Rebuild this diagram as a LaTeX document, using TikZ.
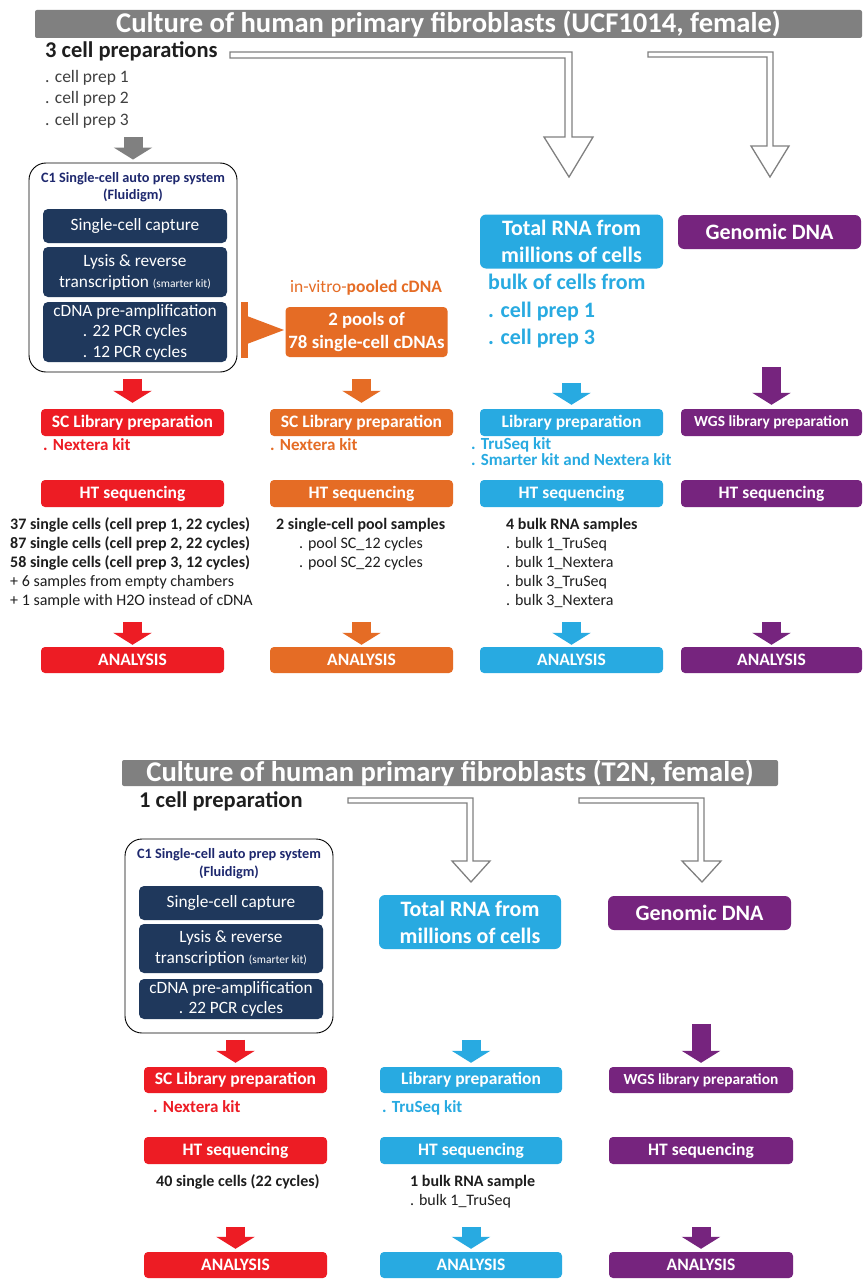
\documentclass[tikz,border=0pt]{standalone}
\usepackage{fontspec}
\setmainfont{Carlito}
\usetikzlibrary{arrows.meta}
\definecolor{redc}{RGB}{237,28,36}
\definecolor{orangec}{RGB}{229,108,37}
\definecolor{bluec}{RGB}{40,170,225}
\definecolor{purplec}{RGB}{118,36,126}
\definecolor{navyc}{RGB}{31,56,92}
\definecolor{titlenavy}{RGB}{30,40,110}
\definecolor{hdrgray}{RGB}{128,128,128}
\definecolor{darktext}{RGB}{30,30,30}
\definecolor{preptext}{RGB}{64,64,64}
\newcommand{\fs}[2]{\fontsize{#1}{#2}\selectfont}
\tikzset{
  hdr/.style={fill=hdrgray, text=white, inner sep=0pt, rounded corners=2pt, font=\bfseries\fs{28.6}{30}},
  cbox/.style={rounded corners=4pt, inner sep=0pt, text=white, align=center, font=\bfseries\fs{17.5}{20}},
  wgsfont/.style={font=\bfseries\fs{15.4}{18}},
  bigbox/.style={rounded corners=6pt, inner sep=0pt, text=white, align=center, font=\bfseries\fs{22}{27}},
  navybox/.style={fill=navyc, rounded corners=5pt, inner sep=0pt, text=white, align=center, minimum width=184},
  c1frame/.style={draw=black, line width=0.9pt, rounded corners=17pt, minimum width=208},
  c1title/.style={inner sep=0pt, font=\bfseries\fs{14.3}{16}, text=titlenavy},
  txt/.style={anchor=west, inner sep=0pt, text height=.68em, text depth=.18em},
  listb/.style={txt, font=\bfseries\fs{16}{19}, text=darktext},
  listr/.style={txt, font=\fs{16}{19}, text=darktext},
  barrow/.style={line width=19pt, -{Triangle[width=38pt,length=12pt]}},
  hollow/.style={draw=hdrgray, line width=1.3pt, fill=white, line join=miter},
}
\begin{document}
\begin{tikzpicture}[x=1pt,y=-1pt]
\useasboundingbox[fill=white] (0,0) rectangle (862,1279);

% ================= TOP PART =================
\node[hdr, minimum width=827, minimum height=28] (h1) at (448.5,24) {Culture of human primary fibroblasts (UCF1014, female)};

\node[txt, font=\bfseries\fs{22.5}{26}, text=darktext] (prep) at (45,55) {3 cell preparations};
\node[txt, font=\fs{17.5}{20}, text=preptext] (p1) at (45,80) {. cell prep 1};
\node[txt, font=\fs{17.5}{20}, text=preptext] (p2) at (45,101) {. cell prep 2};
\node[txt, font=\fs{17.5}{20}, text=preptext] (p3) at (45,123) {. cell prep 3};

% hollow bent arrows
\draw[hollow] (230,52) -- (572,52) -- (572,137) -- (593,137) -- (569,177) -- (544,137) -- (565,137) -- (565,58) -- (230,58) -- cycle;
\draw[hollow] (648,52) -- (773,52) -- (773,146) -- (789,146) -- (770,177) -- (751,146) -- (767,146) -- (767,57) -- (648,57) -- cycle;

% C1 system
\node[c1frame, minimum height=209] (c1) at (133,267.5) {};
\draw[barrow, draw=hdrgray] ([yshift=26pt]c1.north) -- ([yshift=3pt]c1.north);
\node[c1title] (c1t) at (133,179) {C1 Single-cell auto prep system};
\node[c1title] (c1f) at (133,195) {(Fluidigm)};
\node[navybox, minimum height=34, font=\fs{17.3}{20}] (n1) at (135,226) {Single-cell capture};
\node[navybox, minimum height=50, font=\fs{17.3}{21}] (n2) at (135,272) {Lysis \& reverse\\transcription {\fs{11.5}{13}(smarter kit)}};
\node[navybox, minimum height=60, font=\fs{17.3}{20.5}] (n3) at (135,332) {cDNA pre-amplification\\. 22 PCR cycles\\. 12 PCR cycles};

% pooling
\fill[orangec] (241,302) rectangle (248,358);
\fill[orangec] (247,316) -- (284,330) -- (247,344) -- cycle;
\node[inner sep=0pt, font=\fs{17.5}{20}, text=orangec] (ivp) at (366,288) {in-vitro-\textbf{pooled cDNA}};
\node[cbox, fill=orangec, minimum width=162, minimum height=50, font=\bfseries\fs{18.8}{23}] (pool) at (366.5,332) {2 pools of\\78 single-cell cDNAs};

% bulk RNA / DNA
\node[bigbox, fill=bluec, minimum width=183, minimum height=54] (rna) at (571.5,241.5) {Total RNA from\\millions of cells};
\node[bigbox, fill=purplec, minimum width=183, minimum height=34] (dna) at (769.5,232) {Genomic DNA};
\node[txt, font=\bfseries\fs{22}{26}, text=bluec] (bk) at (488,287) {bulk of cells from};
\node[txt, font=\bfseries\fs{22}{26}, text=bluec] (bk1) at (488,315) {. cell prep 1};
\node[txt, font=\bfseries\fs{22}{26}, text=bluec] (bk3) at (488,342) {. cell prep 3};

% library preparation row
\node[cbox, fill=redc, minimum width=183, minimum height=27] (lib1) at (132.5,422.5) {SC Library preparation};
\node[cbox, fill=orangec, minimum width=183, minimum height=27] (lib2) at (361.5,422.5) {SC Library preparation};
\node[cbox, fill=bluec, minimum width=183, minimum height=27] (lib3) at (571.5,422.5) {Library preparation};
\node[cbox, wgsfont, fill=purplec, minimum width=181, minimum height=27] (lib4) at (771.5,422.5) {WGS library preparation};

\draw[barrow, draw=redc] ([yshift=30pt]lib1.north) -- ([yshift=6pt]lib1.north);
\draw[barrow, draw=orangec] ([yshift=30pt]lib2.north) -- ([yshift=6pt]lib2.north);
\draw[barrow, draw=bluec] ([yshift=26pt]lib3.north) -- ([yshift=4pt]lib3.north);
\draw[barrow, draw=purplec] ([yshift=42pt]lib4.north) -- ([yshift=4pt]lib4.north);

\node[txt, font=\bfseries\fs{17}{19}, text=redc] (k1) at (43,448) {. Nextera kit};
\node[txt, font=\bfseries\fs{17}{19}, text=orangec] (k2) at (270,448) {. Nextera kit};
\node[txt, font=\bfseries\fs{17}{18}, text=bluec] (k3) at (471,447) {. TruSeq kit};
\node[txt, font=\bfseries\fs{17}{18}, text=bluec] (k4) at (471,463) {. Smarter kit and Nextera kit};

% HT sequencing row
\node[cbox, fill=redc, minimum width=183, minimum height=27] (ht1) at (132.5,493.5) {HT sequencing};
\node[cbox, fill=orangec, minimum width=183, minimum height=27] (ht2) at (361.5,493.5) {HT sequencing};
\node[cbox, fill=bluec, minimum width=183, minimum height=27] (ht3) at (571.5,493.5) {HT sequencing};
\node[cbox, fill=purplec, minimum width=181, minimum height=27] (ht4) at (771.5,493.5) {HT sequencing};

% sample lists
\node[listb] (s1) at (10,527) {37 single cells (cell prep 1, 22 cycles)};
\node[listb] (s2) at (10,546) {87 single cells (cell prep 2, 22 cycles)};
\node[listb] (s3) at (10,565) {58 single cells (cell prep 3, 12 cycles)};
\node[listr] (s4) at (10,584) {+ 6 samples from empty chambers};
\node[listr] (s5) at (10,603) {+ 1 sample with H2O instead of cDNA};

\node[listb] (o1) at (276,527) {2 single-cell pool samples};
\node[listr] (o2) at (299,546) {. pool SC\_12 cycles};
\node[listr] (o3) at (299,565) {. pool SC\_22 cycles};

\node[listb] (b1) at (506,527) {4 bulk RNA samples};
\node[listr] (b2) at (506,546) {. bulk 1\_TruSeq};
\node[listr] (b3) at (506,565) {. bulk 1\_Nextera};
\node[listr] (b4) at (506,584) {. bulk 3\_TruSeq};
\node[listr] (b5) at (506,603) {. bulk 3\_Nextera};

% analysis row
\node[cbox, fill=redc, minimum width=183, minimum height=26] (an1) at (132.5,660) {ANALYSIS};
\node[cbox, fill=orangec, minimum width=183, minimum height=26] (an2) at (361.5,660) {ANALYSIS};
\node[cbox, fill=bluec, minimum width=183, minimum height=26] (an3) at (571.5,660) {ANALYSIS};
\node[cbox, fill=purplec, minimum width=181, minimum height=26] (an4) at (771.5,660) {ANALYSIS};
\draw[barrow, draw=redc] ([yshift=25pt]an1.north) -- ([yshift=2pt]an1.north);
\draw[barrow, draw=orangec] ([yshift=25pt]an2.north) -- ([yshift=2pt]an2.north);
\draw[barrow, draw=bluec] ([yshift=25pt]an3.north) -- ([yshift=2pt]an3.north);
\draw[barrow, draw=purplec] ([yshift=25pt]an4.north) -- ([yshift=2pt]an4.north);

% ================= BOTTOM PART =================
\node[hdr, minimum width=656, minimum height=26] (h2) at (450,773) {Culture of human primary fibroblasts (T2N, female)};
\node[txt, font=\bfseries\fs{22.5}{26}, text=darktext] (prepb) at (139,805) {1 cell preparation};

\draw[hollow] (348,798) -- (473,798) -- (473,861) -- (490,861) -- (471,882) -- (452,861) -- (467,861) -- (467,803) -- (348,803) -- cycle;
\draw[hollow] (579,798) -- (704,798) -- (704,861) -- (721,861) -- (702,882) -- (682,861) -- (698,861) -- (698,803) -- (579,803) -- cycle;

\node[c1frame, minimum height=194] (c1b) at (229,936) {};
\node[c1title] (c1bt) at (229,855) {C1 Single-cell auto prep system};
\node[c1title] (c1bf) at (229,872) {(Fluidigm)};
\node[navybox, minimum height=34, font=\fs{17.3}{20}] (nb1) at (231,903) {Single-cell capture};
\node[navybox, minimum height=49, font=\fs{17.3}{21}] (nb2) at (231,948.5) {Lysis \& reverse\\transcription {\fs{11.5}{13}(smarter kit)}};
\node[navybox, minimum height=40, font=\fs{17.3}{20.5}] (nb3) at (231,999) {cDNA pre-amplification\\. 22 PCR cycles};

\node[bigbox, fill=bluec, minimum width=182, minimum height=54] (rnab) at (470,922) {Total RNA from\\millions of cells};
\node[bigbox, fill=purplec, minimum width=183, minimum height=34] (dnab) at (699.5,913) {Genomic DNA};

\node[cbox, fill=redc, minimum width=183, minimum height=26] (lb1) at (235.5,1080) {SC Library preparation};
\node[cbox, fill=bluec, minimum width=182, minimum height=26] (lb2) at (471,1080) {Library preparation};
\node[cbox, wgsfont, fill=purplec, minimum width=184, minimum height=26] (lb3) at (701,1080) {WGS library preparation};
\draw[barrow, draw=redc] ([yshift=27pt]lb1.north) -- ([yshift=4pt]lb1.north);
\draw[barrow, draw=bluec] ([yshift=27pt]lb2.north) -- ([yshift=4pt]lb2.north);
\draw[barrow, draw=purplec] ([yshift=43pt]lb3.north) -- ([yshift=4pt]lb3.north);

\node[txt, font=\bfseries\fs{17}{19}, text=redc] (kb1) at (153,1110) {. Nextera kit};
\node[txt, font=\bfseries\fs{17}{19}, text=bluec] (kb2) at (382,1110) {. TruSeq kit};

\node[cbox, fill=redc, minimum width=183, minimum height=27] (htb1) at (235.5,1150.5) {HT sequencing};
\node[cbox, fill=bluec, minimum width=182, minimum height=27] (htb2) at (471,1150.5) {HT sequencing};
\node[cbox, fill=purplec, minimum width=184, minimum height=27] (htb3) at (701,1150.5) {HT sequencing};

\node[listb] (sb1) at (156,1184) {40 single cells (22 cycles)};
\node[listb] (bb1) at (410,1184) {1 bulk RNA sample};
\node[listr] (bb2) at (410,1203) {. bulk 1\_TruSeq};

\node[cbox, fill=redc, minimum width=183, minimum height=26] (anb1) at (235.5,1265) {ANALYSIS};
\node[cbox, fill=bluec, minimum width=182, minimum height=26] (anb2) at (471,1265) {ANALYSIS};
\node[cbox, fill=purplec, minimum width=184, minimum height=26] (anb3) at (701,1265) {ANALYSIS};
\draw[barrow, draw=redc] ([yshift=25pt]anb1.north) -- ([yshift=3pt]anb1.north);
\draw[barrow, draw=bluec] ([yshift=25pt]anb2.north) -- ([yshift=3pt]anb2.north);
\draw[barrow, draw=purplec] ([yshift=25pt]anb3.north) -- ([yshift=3pt]anb3.north);
\end{tikzpicture}
\end{document}
